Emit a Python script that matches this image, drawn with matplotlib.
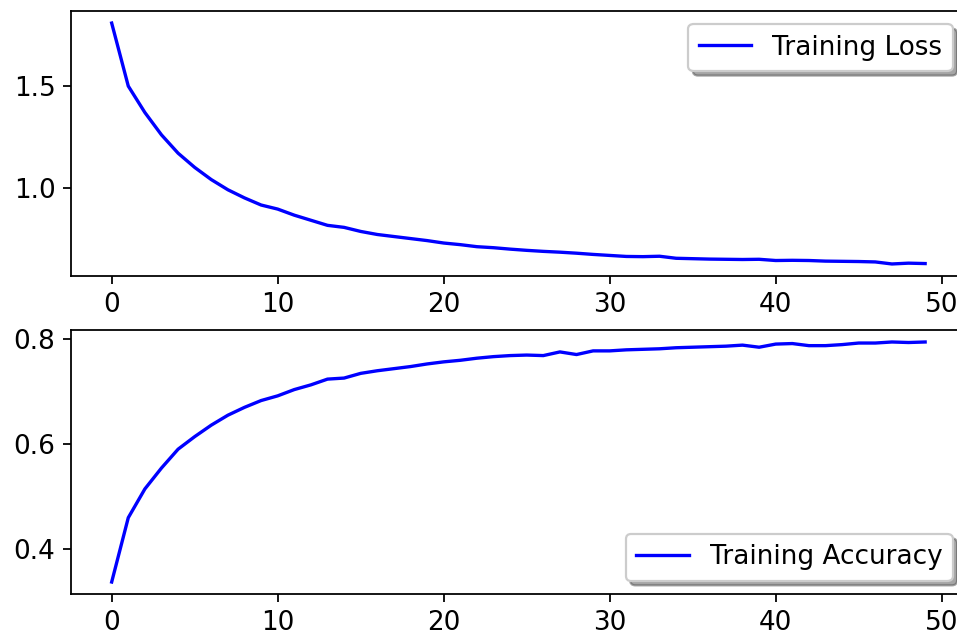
import numpy as np
import matplotlib
matplotlib.use("Agg")
import matplotlib.pyplot as plt

# values
epochs = list(range(50))
loss = [1.81, 1.50, 1.37, 1.26, 1.17, 1.10, 1.04, 0.99, 0.95, 0.915,
        0.895, 0.865, 0.84, 0.815, 0.805, 0.785, 0.77, 0.76, 0.75, 0.74,
        0.728, 0.72, 0.71, 0.705, 0.698, 0.692, 0.687, 0.683, 0.678, 0.672,
        0.667, 0.662, 0.661, 0.663, 0.653, 0.651, 0.649, 0.648, 0.647, 0.648,
        0.642, 0.643, 0.642, 0.639, 0.638, 0.637, 0.635, 0.625, 0.629, 0.627]
accuracy = [0.336, 0.459, 0.514, 0.554, 0.590, 0.614, 0.636, 0.655, 0.670, 0.683,
            0.692, 0.704, 0.713, 0.724, 0.726, 0.735, 0.740, 0.744, 0.748, 0.753,
            0.757, 0.760, 0.764, 0.767, 0.769, 0.770, 0.769, 0.776, 0.771, 0.778,
            0.778, 0.780, 0.781, 0.782, 0.784, 0.785, 0.786, 0.787, 0.789, 0.785,
            0.791, 0.792, 0.788, 0.788, 0.790, 0.793, 0.793, 0.795, 0.794, 0.795]

plt.rcParams['font.size'] = 11.8                         # ref text is a bit larger than default

fig = plt.figure(figsize=(957/160, 641/160), dpi=160)
ax1 = fig.add_axes([0.0742, 0.5694, 0.935, 0.4134])
ax2 = fig.add_axes([0.0742, 0.0733, 0.935, 0.4119])

ax1.plot(epochs, loss, color='b', label='Training Loss')
ax1.legend(loc='upper right', shadow=True)

ax2.plot(epochs, accuracy, color='b', label='Training Accuracy')
ax2.legend(loc='lower right', shadow=True)

fig.savefig("out.png", dpi=160)
